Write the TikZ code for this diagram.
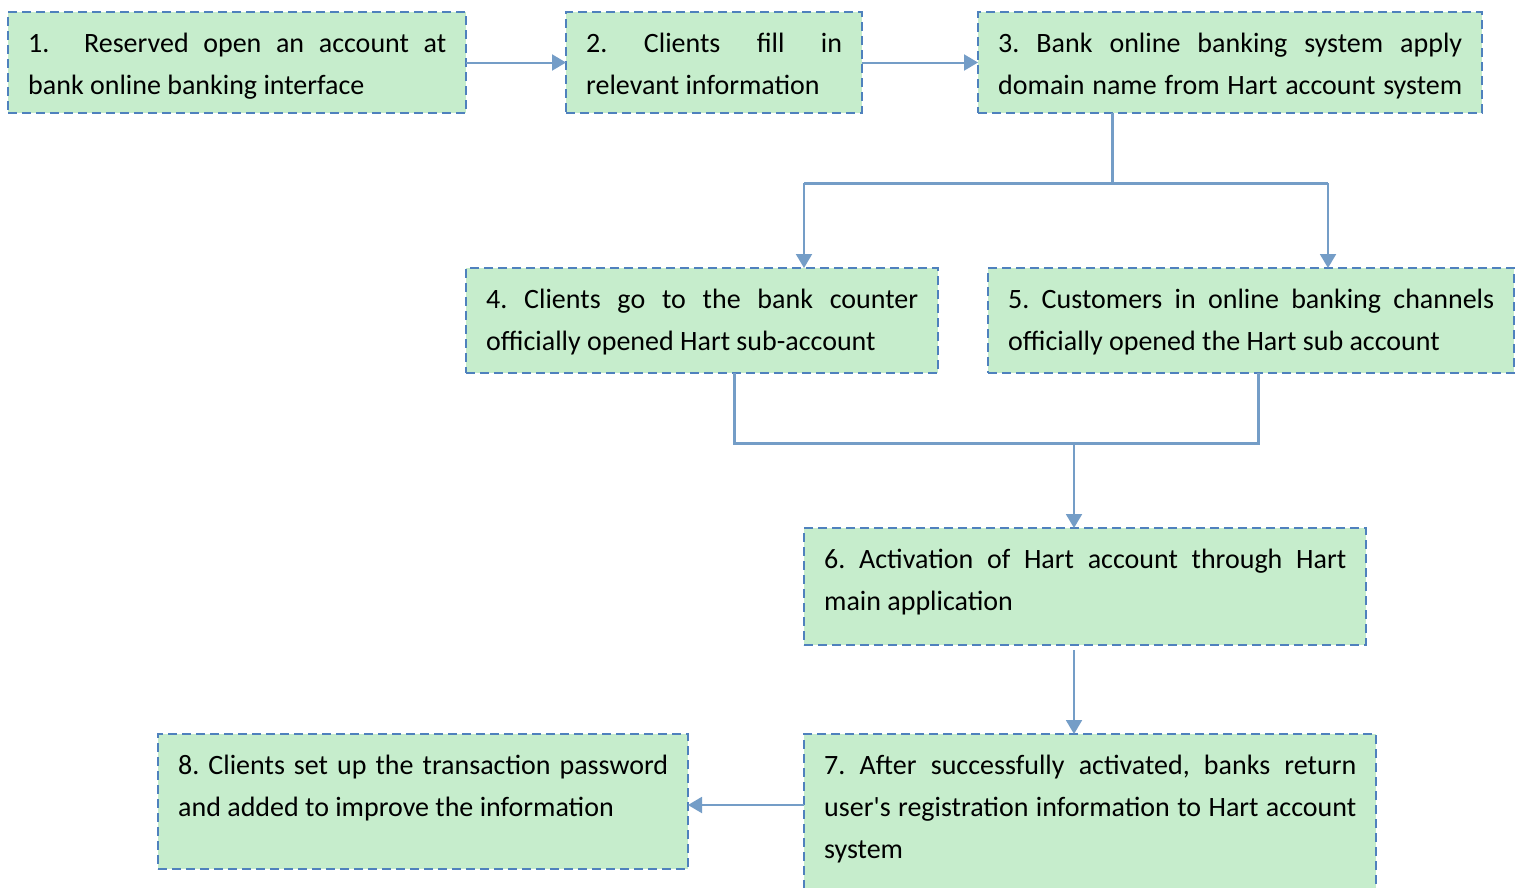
\documentclass[tikz,border=0pt]{standalone}
\usepackage{fontspec}
\newfontfamily\cf{Carlito}
\usetikzlibrary{arrows.meta}
\definecolor{boxfill}{RGB}{198,237,204}
\definecolor{boxline}{RGB}{79,129,189}
\definecolor{conn}{RGB}{116,157,199}
\newcommand\jl[1]{\makebox[\linewidth][s]{#1}}
\newcommand\boxtext[3]{\node[anchor=base west, inner sep=0pt] at ([xshift=20pt,yshift=-40.5pt]#1.north west) {\parbox[t]{#2pt}{\cf\frenchspacing\fontsize{28}{42}\selectfont #3}};}
\begin{document}
\begin{tikzpicture}[x=1pt,y=-1pt,
  box/.style={draw=boxline, fill=boxfill, line width=1.8pt, dash pattern=on 9pt off 5pt, inner sep=0pt, outer sep=0pt},
  arr/.style={draw=conn, line width=2pt, -{Triangle[width=16pt,length=14pt]}},
  bus/.style={draw=conn, line width=3pt}]
\fill[white] (0,0) rectangle (1525,887);
\useasboundingbox (0,0) rectangle (1525,887);
\clip (0,0) rectangle (1525,887);

\node[box, minimum width=458, minimum height=101] (b1) at (237,62.5) {};
\node[box, minimum width=296, minimum height=101] (b2) at (714,62.5) {};
\node[box, minimum width=504, minimum height=101] (b3) at (1230,62.5) {};
\node[box, minimum width=472, minimum height=105] (b4) at (702,320.5) {};
\node[box, minimum width=526, minimum height=105] (b5) at (1251,320.5) {};
\node[box, minimum width=562, minimum height=117] (b6) at (1085,586.5) {};
\node[box, minimum width=572, minimum height=166] (b7) at (1090,817) {};
\node[box, minimum width=530, minimum height=135] (b8) at (423,801.5) {};

\boxtext{b1}{418}{\jl{1.\hspace{20pt} Reserved open an account at}\\bank online banking interface}
\boxtext{b2}{256}{\jl{2. Clients fill in}\\relevant information}
\boxtext{b3}{464}{\jl{3. Bank online banking system apply}\\\jl{domain name from Hart account system}}
\boxtext{b4}{432}{\jl{4. Clients go to the bank counter}\\officially opened Hart sub-account}
\boxtext{b5}{486}{\jl{5. Customers in online banking channels}\\officially opened the Hart sub account}
\boxtext{b6}{522}{\jl{6. Activation of Hart account through Hart}\\main application}
\boxtext{b7}{532}{\jl{7. After successfully activated, banks return}\\\jl{user's registration information to Hart account}\\system}
\boxtext{b8}{490}{\jl{8. Clients set up the transaction password}\\and added to improve the information}

\coordinate (j1) at (1112,183);
\coordinate (jL) at (804,183);
\coordinate (jR) at (1328,183);
\coordinate (kL) at (734,443);
\coordinate (kR) at (1258,443);
\coordinate (kC) at (1074,443);
\coordinate (m) at (0,805);

\draw[arr] (b1) -- (b2);
\draw[arr] (b2) -- (b3);
\draw[bus] (b3.south -| j1) -- (j1);
\draw[bus] (jL) -- (jR);
\draw[arr] (jL) -- (jL |- b4.north);
\draw[arr] (jR) -- (jR |- b5.north);
\draw[bus] (kL |- b4.south) -- (kL) -- (kR) -- (kR |- b5.south);
\draw[arr] (kC) -- (kC |- b6.north);
\draw[arr] ([yshift=-5pt]kC |- b6.south) -- (kC |- b7.north);
\draw[arr] (b7.west |- m) -- (b8.east |- m);
\end{tikzpicture}
\end{document}
